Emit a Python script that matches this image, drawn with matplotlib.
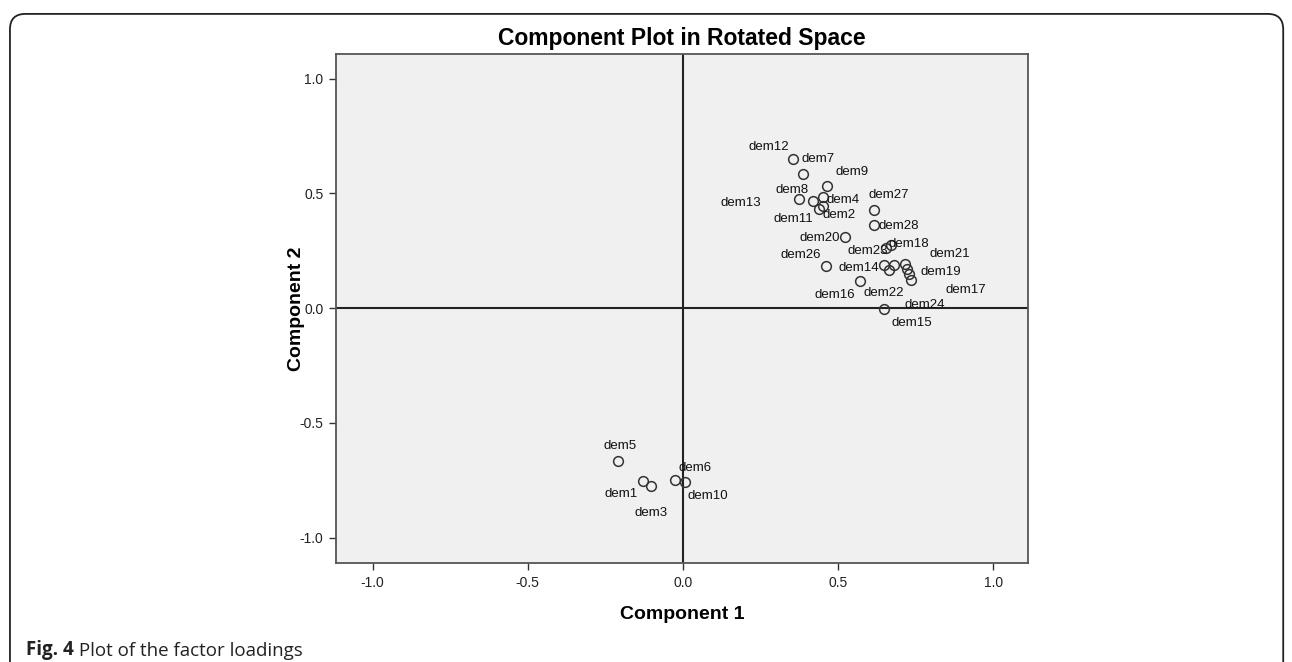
import matplotlib.pyplot as plt
from matplotlib.patches import FancyBboxPatch

# loadings
names = [
    "dem1", "dem2", "dem3", "dem4", "dem5", "dem6", "dem7", "dem8", "dem9", "dem10",
    "dem11", "dem12", "dem13", "dem14", "dem15", "dem16", "dem17", "dem18", "dem19",
    "dem20", "dem21", "dem22", "dem23", "dem24", "dem25", "dem26", "dem27", "dem28",
]
comp1 = [
    -0.128, 0.450, -0.104, 0.450, -0.208, -0.026, 0.387, 0.418, 0.465, 0.007,
    0.439, 0.354, 0.373, 0.648, 0.646, 0.570, 0.728, 0.670, 0.721,
    0.521, 0.715, 0.663, 0.654, 0.734, 0.680, 0.461, 0.615, 0.615,
]
comp2 = [
    -0.754, 0.446, -0.776, 0.485, -0.667, -0.749, 0.585, 0.466, 0.532, -0.757,
    0.431, 0.649, 0.474, 0.187, -0.004, 0.119, 0.148, 0.275, 0.170,
    0.308, 0.192, 0.166, 0.261, 0.122, 0.187, 0.183, 0.426, 0.362,
]
x_ticks = [-1.0, -0.5, 0.0, 0.5, 1.0]
y_ticks = [-1.0, -0.5, 0.0, 0.5, 1.0]

# label offsets in pixels, up positive (dem25's label is hidden in the original)
label_offsets = {
    "dem1": (-22, -13), "dem2": (16, -9), "dem3": (0, -27), "dem4": (20, -3),
    "dem5": (2, 15), "dem6": (20, 12), "dem7": (15, 15), "dem8": (-21, 11),
    "dem9": (25, 14), "dem10": (23, -14), "dem11": (-26, -10), "dem12": (-24, 12),
    "dem13": (-58, -4), "dem14": (-25, -3), "dem15": (28, -14), "dem16": (-25, -14),
    "dem17": (57, -16), "dem18": (18, 1), "dem19": (34, -3), "dem20": (-25, -1),
    "dem21": (45, 10), "dem22": (-5, -23), "dem23": (-18, -3), "dem24": (14, -25),
    "dem26": (-25, 11), "dem27": (15, 15), "dem28": (25, -1),
}

plt.rcParams["font.family"] = ["Liberation Sans", "DejaVu Sans"]

fig = plt.figure(figsize=(12.92, 6.62), dpi=100)

# rounded frame around the figure
frame = FancyBboxPatch(
    (0.0077, -0.05), 0.9855, 1.029,
    boxstyle="round,pad=0,rounding_size=0.012",
    transform=fig.transFigure, facecolor="none", edgecolor="#222222",
    linewidth=1.3, mutation_aspect=1292 / 662,
)
fig.add_artist(frame)

ax = fig.add_axes([0.260, 0.1495, 0.5356, 0.769])
ax.set_facecolor("#f0f0f0")
ax.set_xlim(-1.118, 1.111)
ax.set_ylim(-1.111, 1.107)
ax.axhline(0, color="#222222", linewidth=1.5, zorder=1)
ax.axvline(0, color="#222222", linewidth=1.5, zorder=1)

ax.plot(comp1, comp2, "o", markersize=7, markerfacecolor="none",
        markeredgecolor="#333333", markeredgewidth=1.1, zorder=3)

for name, x, y in zip(names, comp1, comp2):
    if name not in label_offsets:
        continue
    dx, dy = label_offsets[name]
    ax.annotate(name, (x, y), xytext=(dx * 0.72, dy * 0.72), textcoords="offset points",
                ha="center", va="center", fontsize=9.5, color="#111111", zorder=4)

ax.set_xticks(x_ticks)
ax.set_yticks(y_ticks)
ax.set_xticklabels([f"{t:.1f}" for t in x_ticks])
ax.set_yticklabels([f"{t:.1f}" for t in y_ticks])
ax.tick_params(direction="out", length=5, width=1, color="#333333",
               labelsize=10, labelcolor="#222222", pad=4)
for spine in ax.spines.values():
    spine.set_color("#555555")
    spine.set_linewidth(1.3)

ax.text(0.5, 1.031, "Component Plot in Rotated Space", transform=ax.transAxes,
        ha="center", va="center", fontsize=16.5, fontweight="bold")
ax.set_xlabel("Component 1", fontsize=14, fontweight="bold")
ax.set_ylabel("Component 2", fontsize=14, fontweight="bold")
ax.xaxis.set_label_coords(0.5, -0.0845)
ax.yaxis.set_label_coords(-0.045, 0.5)

# caption
cap = fig.text(0.020, 0.010, "Fig. 4", fontsize=13.5, fontweight="bold",
               family=["Open Sans", "DejaVu Sans"], color="#222222")
ax.annotate(" Plot of the factor loadings", xy=(1, 0), xycoords=cap, va="bottom",
            fontsize=13.5, family=["Open Sans", "DejaVu Sans"], color="#222222",
            annotation_clip=False)

fig.savefig("out.png", dpi=100)
